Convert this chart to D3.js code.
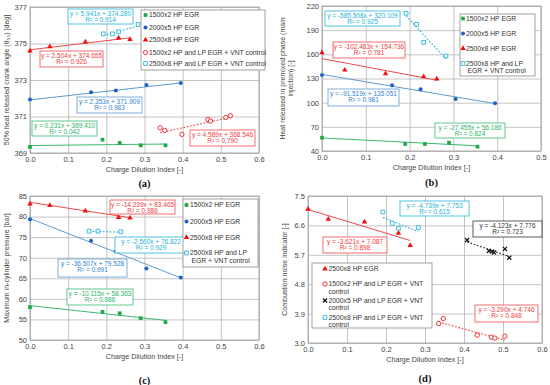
<!DOCTYPE html>
<html>
<head>
<meta charset="utf-8">
<script src="https://cdn.jsdelivr.net/npm/d3@7"></script>
<style>
  body { margin: 0; background: #fff; }
  svg { display: block; font-family: "Liberation Sans", Arial, sans-serif; }
</style>
</head>
<body>
<svg width="550" height="385"></svg>
<script>
// charge dilution index of each operating point
const cdi1500 = [0, 0.19, 0.235, 0.29, 0.355];
const cdi2000 = [0, 0.16, 0.225, 0.305, 0.395];
const cdi2500 = [0, 0.052, 0.145, 0.232, 0.262];
const cdi1500Vnt = [0.341, 0.353, 0.398, 0.466, 0.473, 0.513, 0.525];
const cdi2500Vnt = [0.192, 0.216, 0.232, 0.283];
const cdi2500VntC = [0.155, 0.178, 0.238];
const cdi2000VntD = [0.408, 0.464, 0.472, 0.477, 0.505, 0.516];
const cdi1500VntD = [0.335, 0.347, 0.434, 0.47, 0.479, 0.505];

// (a) 50% heat released crank angle
const ca50_1500 = [369.33, 369.73, 369.55, 369.42, 369.42];
const ca50_2000 = [371.93, 372.33, 372.42, 372.73, 372.84];
const ca50_2500 = [374.6, 374.82, 375.09, 375.31, 375.22];
const ca50_1500Vnt = [370.38, 370.24, 370.02, 370.84, 370.75, 370.95, 371.04];
const ca50_2500Vnt = [375.53, 375.53, 375.64, 376.04];

// (b) heat released in premixed phase
const heat_1500 = [56.5, 48.7, 48.7, 50.3, 45.4];
const heat_2000 = [134.3, 121.5, 116.6, 104.5, 99.2];
const heat_2500 = [162, 140.5, 136, 132.3, 129.4];
const heat_2500Vnt = [210.9, 197.2, 174.9, 157.9];

// (c) maximum in-cylinder pressure
const pmax_1500 = [57.97, 56.85, 56.5, 55.3, 54.35];
const pmax_2000 = [79.33, 74.14, 71.55, 67.4, 65.2];
const pmax_2500 = [83.05, 82.7, 81.35, 79.8, 79.65];
const pmax_2500Vnt = [76.45, 76.45, 76.3];

// (d) combustion noise indicator
const cni_2500 = [7.1, 6.79, 6.71, 6.36, 5.99];
const cni_2500Vnt = [7.01, 6.66, 6.51, 6.53];
const cni_2000Vnt = [6.15, 5.82, 5.8, 5.77, 5.88, 5.61];
const cni_1500Vnt = [3.595, 3.75, 3.24, 3.18, 3.15, 3.21];

// linear fits [slope, intercept, R2] as printed on the chart
const fitA = [[0.231, 369.410, 0.042], [2.353, 371.909, 0.983], [2.504, 374.655, 0.926], [4.589, 368.546, 0.790], [5.941, 374.280, 0.914]];
const fitB = [[-27.455, 56.186, 0.824], [-91.519, 135.051, 0.981], [-102.483, 154.736, 0.781], [-585.508, 320.109, 0.925]];
const fitC = [[-10.115, 58.363, 0.886], [-36.507, 79.528, 0.991], [-14.239, 83.465, 0.986], [-2.560, 76.822, 0.929]];
const fitD = [[-3.621, 7.087, 0.898], [-4.739, 7.753, 0.615], [-4.123, 7.776, 0.723], [-3.290, 4.746, 0.848]];

const xTicks6 = [0, 0.1, 0.2, 0.3, 0.4, 0.5, 0.6];
const xTicks5 = [0, 0.1, 0.2, 0.3, 0.4, 0.5];
const ticksA = [369, 371, 373, 375, 377];
const ticksB = [40, 70, 100, 130, 160, 190, 220];
const ticksC = [50, 55, 60, 65, 70, 75, 80, 85];
const ticksD = [3.0, 3.9, 4.8, 5.7, 6.6, 7.5];

const GREEN = {mark: '#1faa4a', line: '#3cb96f', text: '#2bb467'};
const BLUE = {mark: '#1d63c4', line: '#5e9bd6', text: '#2f7fcf'};
const RED = {mark: '#f01010', line: '#f04a4a', text: '#f03a3a'};
const CYAN = {mark: '#1eb3d6', line: '#27b5d8', text: '#22b2d6'};
const BLACK = {mark: '#1a1a1a', line: '#333', text: '#333'};
const GRID = '#b5b5b5';
const TXT = '#444';

const svg = d3.select('svg');

const SYM = {
  square: {type: d3.symbolSquare, size: 14, filled: true},
  circle: {type: d3.symbolCircle, size: 13, filled: true},
  triangle: {type: d3.symbolTriangle, size: 13, filled: true},
  ocircle: {type: d3.symbolCircle, size: 15, filled: false},
  osquare: {type: d3.symbolSquare, size: 14, filled: false},
  cross: {type: d3.symbolTimes, size: 13, filled: false},
};

function drawMarker(sel, kind, col) {
  const s = SYM[kind];
  sel.attr('d', d3.symbol().type(s.type).size(s.size)())
    .attr('fill', s.filled ? col.mark : (kind === 'cross' ? 'none' : '#fff'))
    .attr('stroke', s.filled ? 'none' : col.mark)
    .attr('stroke-width', kind === 'cross' ? 1.3 : 0.85);
}

function fitLabel(f) {
  const fmt = d3.format('.3f');
  const a = f[0] < 0 ? '-' + fmt(-f[0]) : fmt(f[0]);
  return [`y = ${a}x + ${fmt(f[1])}`, `R\u00b2 = ${fmt(f[2])}`];
}

function drawPanel(p) {
  const x = d3.scaleLinear().domain([0, p.xMax]).range([p.left, p.right]);
  const y = d3.scaleLinear().domain(p.yDomain).range([p.bottom, p.top]);
  const g = svg.append('g');

  const xAxis = g.append('g')
    .attr('transform', `translate(0,${p.bottom})`)
    .call(d3.axisBottom(x).tickValues(p.xTicks).tickFormat(d3.format('.1f'))
      .tickSize(-(p.bottom - p.top)).tickPadding(4));
  const yAxis = g.append('g')
    .attr('transform', `translate(${p.left},0)`)
    .call(d3.axisLeft(y).tickValues(p.yTicks).tickFormat(p.yFormat)
      .tickSize(-(p.right - p.left)).tickPadding(3));
  [xAxis, yAxis].forEach((ax) => {
    ax.select('.domain').remove();
    ax.selectAll('line').attr('stroke', GRID).attr('stroke-width', 0.8);
    ax.selectAll('text').attr('fill', TXT).style('font-size', '7.5px')
      .style('font-family', '"Liberation Sans", Arial, sans-serif');
  });

  g.append('rect')
    .attr('x', p.left).attr('y', p.top)
    .attr('width', p.right - p.left).attr('height', p.bottom - p.top)
    .attr('fill', 'none').attr('stroke', '#9a9a9a').attr('stroke-width', 0.8);

  // trendlines
  p.series.forEach((s) => {
    const x0 = d3.min(s.x), x1 = d3.max(s.x);
    g.append('path')
      .datum([[x0, s.fit[0] * x0 + s.fit[1]], [x1, s.fit[0] * x1 + s.fit[1]]])
      .attr('fill', 'none')
      .attr('stroke', s.col.line)
      .attr('stroke-width', s.dash ? 1.1 : 1)
      .attr('stroke-dasharray', s.dash ? '1.8,1.6' : null)
      .attr('d', d3.line().x((d) => x(d[0])).y((d) => y(d[1])));
  });

  // points
  p.series.forEach((s) => {
    g.append('g').selectAll('path')
      .data(d3.zip(s.x, s.y))
      .join('path')
      .attr('transform', (d) => `translate(${x(d[0])},${y(d[1])})`)
      .call(drawMarker, s.kind, s.col);
  });

  // fit labels
  p.series.forEach((s) => {
    const [bx0, by0, bx1, by1] = s.box;
    const nb = g.append('g');
    nb.append('rect')
      .attr('x', bx0).attr('y', by0).attr('width', bx1 - bx0).attr('height', by1 - by0)
      .attr('fill', '#fff').attr('stroke', s.col.line).attr('stroke-width', 0.8);
    fitLabel(s.fit).forEach((t, i) => {
      nb.append('text')
        .attr('x', (bx0 + bx1) / 2).attr('y', by0 + 6.6 + i * 6.8)
        .attr('text-anchor', 'middle').attr('fill', s.col.text)
        .style('font-size', '6.5px').text(t);
    });
  });

  // legend
  const lg = g.append('g');
  const [lx0, ly0, lx1, ly1] = p.legend.box;
  lg.append('rect')
    .attr('x', lx0).attr('y', ly0).attr('width', lx1 - lx0).attr('height', ly1 - ly0)
    .attr('fill', '#fff').attr('stroke', '#8a8a8a').attr('stroke-width', 0.8);
  p.legend.items.forEach((it) => {
    const s = p.series[it.s];
    lg.append('path')
      .attr('transform', `translate(${p.legend.mx},${it.y})`)
      .call(drawMarker, s.kind, s.col);
    it.lines.forEach((t, i) => {
      lg.append('text')
        .attr('x', p.legend.tx + (i > 0 ? p.legend.indent : 0)).attr('y', it.y + 2.4 + i * 7.5)
        .attr('fill', '#333').style('font-size', '6.8px').text(t);
    });
  });

  // axis titles and tag
  g.append('text')
    .attr('x', (p.left + p.right) / 2).attr('y', p.bottom + 19)
    .attr('text-anchor', 'middle').attr('fill', TXT).style('font-size', '7.2px')
    .text('Charge Dilution Index [-]');
  const cy = (p.top + p.bottom) / 2;
  p.yTitle.forEach((t, i) => {
    g.append('text')
      .attr('transform', `translate(${p.yTitleX + i * 8},${cy}) rotate(-90)`)
      .attr('text-anchor', 'middle').attr('fill', TXT).style('font-size', '7px')
      .text(t);
  });
  g.append('text')
    .attr('x', (p.left + p.right) / 2).attr('y', p.tagY)
    .attr('text-anchor', 'middle').attr('fill', '#111')
    .style('font-family', '"Liberation Serif", "Times New Roman", serif')
    .style('font-weight', 'bold').style('font-size', '10.5px')
    .text(p.tag);
}

drawPanel({
  left: 30, right: 259, top: 7, bottom: 153, xMax: 0.6, xTicks: xTicks6,
  yDomain: [369, 377], yTicks: ticksA, yFormat: d3.format('d'),
  yTitle: ['50% heat released crank angle (\u03b8\u2085\u2080) [deg]'], yTitleX: 9,
  tag: '(a)', tagY: 187,
  series: [
    {x: cdi1500, y: ca50_1500, kind: 'square', col: GREEN, fit: fitA[0], box: [32, 121, 97, 136]},
    {x: cdi2000, y: ca50_2000, kind: 'circle', col: BLUE, fit: fitA[1], box: [77, 97, 142, 113]},
    {x: cdi2500, y: ca50_2500, kind: 'triangle', col: RED, fit: fitA[2], box: [40, 51, 103, 67]},
    {x: cdi1500Vnt, y: ca50_1500Vnt, kind: 'ocircle', col: RED, fit: fitA[3], dash: true, box: [190, 130, 255, 146]},
    {x: cdi2500Vnt, y: ca50_2500Vnt, kind: 'osquare', col: CYAN, fit: fitA[4], dash: true, box: [68, 9, 133, 24]},
  ],
  legend: {
    box: [141, 10, 265, 70], mx: 145.5, tx: 149, indent: 0,
    items: [
      {s: 0, y: 15, lines: ['1500x2 HP EGR']},
      {s: 1, y: 27.5, lines: ['2000x5 HP EGR']},
      {s: 2, y: 40, lines: ['2500x8 HP EGR']},
      {s: 3, y: 52.5, lines: ['1500x2 HP and LP EGR + VNT control']},
      {s: 4, y: 63.5, lines: ['2500x8 HP and LP EGR + VNT control']},
    ],
  },
});

drawPanel({
  left: 322, right: 541, top: 6, bottom: 151, xMax: 0.5, xTicks: xTicks5,
  yDomain: [40, 220], yTicks: ticksB, yFormat: d3.format('d'),
  yTitle: ['Heat released in premixed phase (main', 'injection) [-]'], yTitleX: 285,
  tag: '(b)', tagY: 186,
  series: [
    {x: cdi1500, y: heat_1500, kind: 'square', col: GREEN, fit: fitB[0], box: [435, 123, 505, 138]},
    {x: cdi2000, y: heat_2000, kind: 'circle', col: BLUE, fit: fitB[1], box: [328, 89, 399, 106]},
    {x: cdi2500, y: heat_2500, kind: 'triangle', col: RED, fit: fitB[2], box: [333, 42, 405, 58]},
    {x: cdi2500Vnt, y: heat_2500Vnt, kind: 'osquare', col: CYAN, fit: fitB[3], dash: true, box: [325, 11, 400, 26]},
  ],
  legend: {
    box: [460, 14, 535, 76], mx: 463, tx: 466, indent: 1.5,
    items: [
      {s: 0, y: 18.5, lines: ['1500x2 HP EGR']},
      {s: 1, y: 33.5, lines: ['2000x5 HP EGR']},
      {s: 2, y: 48.5, lines: ['2500x8 HP EGR']},
      {s: 3, y: 63.5, lines: ['2500x8 HP and LP', 'EGR + VNT control']},
    ],
  },
});

drawPanel({
  left: 30, right: 259, top: 196, bottom: 340, xMax: 0.6, xTicks: xTicks6,
  yDomain: [50, 85], yTicks: ticksC, yFormat: d3.format('d'),
  yTitle: ['Maximum in-cylinder pressure [bar]'], yTitleX: 9,
  tag: '(c)', tagY: 384,
  series: [
    {x: cdi1500, y: pmax_1500, kind: 'square', col: GREEN, fit: fitC[0], box: [67, 289, 133, 305]},
    {x: cdi2000, y: pmax_2000, kind: 'circle', col: BLUE, fit: fitC[1], box: [58, 259, 127, 277]},
    {x: cdi2500, y: pmax_2500, kind: 'triangle', col: RED, fit: fitC[2], box: [110, 200, 175, 214]},
    {x: cdi2500VntC, y: pmax_2500Vnt, kind: 'osquare', col: CYAN, fit: fitC[3], dash: true, box: [115, 237, 187, 253]},
  ],
  legend: {
    box: [183, 199, 258, 267], mx: 186.5, tx: 190, indent: 1.5,
    items: [
      {s: 0, y: 205, lines: ['1500x2 HP EGR']},
      {s: 1, y: 221.5, lines: ['2000x5 HP EGR']},
      {s: 2, y: 237.5, lines: ['2500x8 HP EGR']},
      {s: 3, y: 253, lines: ['2500x8 HP and LP', 'EGR + VNT control']},
    ],
  },
});

drawPanel({
  left: 308, right: 542, top: 196, bottom: 343, xMax: 0.6, xTicks: xTicks6,
  yDomain: [3.0, 7.5], yTicks: ticksD, yFormat: d3.format('.1f'),
  yTitle: ['Combustion noise indicator [-]'], yTitleX: 287,
  tag: '(d)', tagY: 382,
  series: [
    {x: cdi2500, y: cni_2500, kind: 'triangle', col: RED, fit: fitD[0], box: [323, 237, 387, 253]},
    {x: cdi2500Vnt, y: cni_2500Vnt, kind: 'osquare', col: CYAN, fit: fitD[1], dash: true, box: [400, 201, 469, 216]},
    {x: cdi2000VntD, y: cni_2000Vnt, kind: 'cross', col: BLACK, fit: fitD[2], dash: true, box: [473, 221, 542, 237]},
    {x: cdi1500VntD, y: cni_1500Vnt, kind: 'ocircle', col: RED, fit: fitD[3], dash: true, box: [475, 305, 538, 322]},
  ],
  legend: {
    box: [312, 263, 432, 328], mx: 325, tx: 328.5, indent: 0,
    items: [
      {s: 0, y: 269, lines: ['2500x8 HP EGR']},
      {s: 3, y: 284, lines: ['1500x2 HP and LP EGR + VNT', 'control']},
      {s: 2, y: 300.5, lines: ['2000x5 HP and LP EGR + VNT', 'control']},
      {s: 1, y: 317.5, lines: ['2500x8 HP and LP EGR + VNT', 'control']},
    ],
  },
});
</script>
</body>
</html>
